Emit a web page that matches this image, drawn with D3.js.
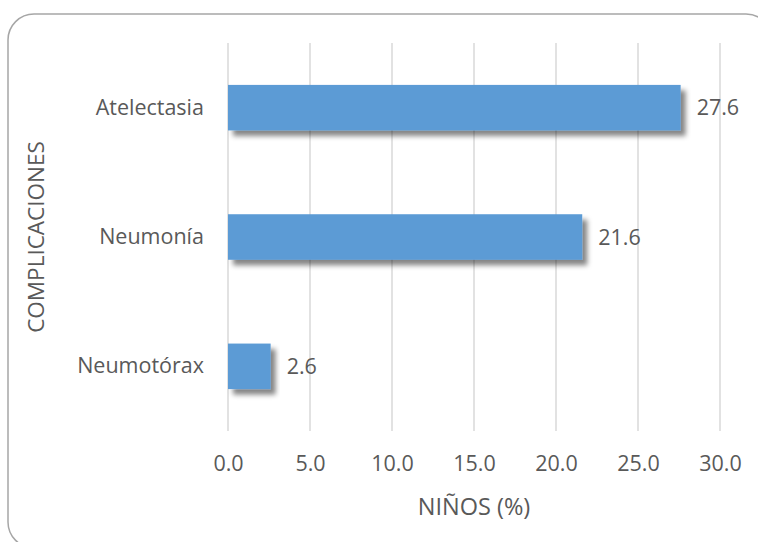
<!DOCTYPE html>
<html>
<head>
<meta charset="utf-8">
<script src="https://cdn.jsdelivr.net/npm/d3@7"></script>
<style>
  html, body { margin: 0; padding: 0; background: #fff; }
  svg { display: block; }
  text { font-family: "Open Sans", sans-serif; fill: #595959; }
</style>
</head>
<body>
<script>
// Complications data (percent of children)
const categories = ["Atelectasia", "Neumonía", "Neumotórax"];
const values = [27.6, 21.6, 2.6];
const xTicks = [0, 5, 10, 15, 20, 25, 30];
const xTitle = "NIÑOS (%)";
const yTitle = "COMPLICACIONES";

const W = 758, H = 542;
const plot = { left: 228, right: 720, top: 43, bottom: 431 };
const fontSize = 21.5;

const svg = d3.select("body").append("svg")
  .attr("width", W).attr("height", H);

// soft drop shadow under bars
const defs = svg.append("defs");
const f = defs.append("filter").attr("id", "shadow")
  .attr("x", "-10%").attr("y", "-20%").attr("width", "130%").attr("height", "160%");
f.append("feDropShadow").attr("dx", 5).attr("dy", 5.5)
  .attr("stdDeviation", 2.4).attr("flood-color", "#000").attr("flood-opacity", 0.48);

// chart frame with rounded corners
svg.append("rect")
  .attr("x", 8).attr("y", 14).attr("width", 764).attr("height", 534)
  .attr("rx", 26).attr("ry", 26)
  .attr("fill", "#fff").attr("stroke", "#a6a6a6").attr("stroke-width", 1.5);

const x = d3.scaleLinear().domain([0, 30]).range([plot.left, plot.right]);

const y = d3.scaleBand().domain(categories)
  .range([plot.top, plot.bottom]).paddingInner(0.648).paddingOuter(0.324);

// vertical gridlines
svg.append("g")
  .selectAll("line").data(xTicks).join("line")
  .attr("x1", d => x(d)).attr("x2", d => x(d))
  .attr("y1", plot.top).attr("y2", plot.bottom)
  .attr("stroke", "#d9d9d9").attr("stroke-width", 1.5);

// x axis tick labels
const xAxis = d3.axisBottom(x).tickValues(xTicks).tickFormat(d3.format(".1f")).tickSize(0).tickPadding(0);
const gx = svg.append("g").attr("transform", "translate(0,463)").call(xAxis);
gx.select(".domain").remove();
gx.selectAll("text").attr("font-size", fontSize).attr("fill", "#595959").attr("dy", "0.35em")
  .style("font-family", "'Open Sans', sans-serif");

// y axis category labels
const yAxis = d3.axisLeft(y).tickSize(0).tickPadding(24);
const gy = svg.append("g").attr("transform", `translate(${x(0)},0)`).call(yAxis);
gy.select(".domain").remove();
gy.selectAll("text").attr("font-size", fontSize).attr("fill", "#595959")
  .style("font-family", "'Open Sans', sans-serif");

// bars
svg.append("g").selectAll("rect").data(values).join("rect")
  .attr("x", x(0))
  .attr("y", (d, i) => y(categories[i]))
  .attr("width", d => x(d) - x(0))
  .attr("height", y.bandwidth())
  .attr("fill", "#5b9bd5")
  .attr("filter", "url(#shadow)");

// value labels
svg.append("g").selectAll("text").data(values).join("text")
  .attr("x", d => x(d) + 16)
  .attr("y", (d, i) => y(categories[i]) + y.bandwidth() / 2)
  .attr("dy", "0.35em")
  .attr("font-size", fontSize)
  .attr("fill", "#404040")
  .text(d => d3.format(".1f")(d));

// axis titles
svg.append("text")
  .attr("x", (x(0) + x(30)) / 2).attr("y", 507)
  .attr("dy", "0.35em").attr("text-anchor", "middle")
  .attr("font-size", 23.5)
  .text(xTitle);

svg.append("text")
  .attr("transform", `translate(36,${(plot.top + plot.bottom) / 2}) rotate(-90)`)
  .attr("dy", "0.35em").attr("text-anchor", "middle")
  .attr("font-size", 22.5)
  .text(yTitle);
</script>
</body>
</html>
